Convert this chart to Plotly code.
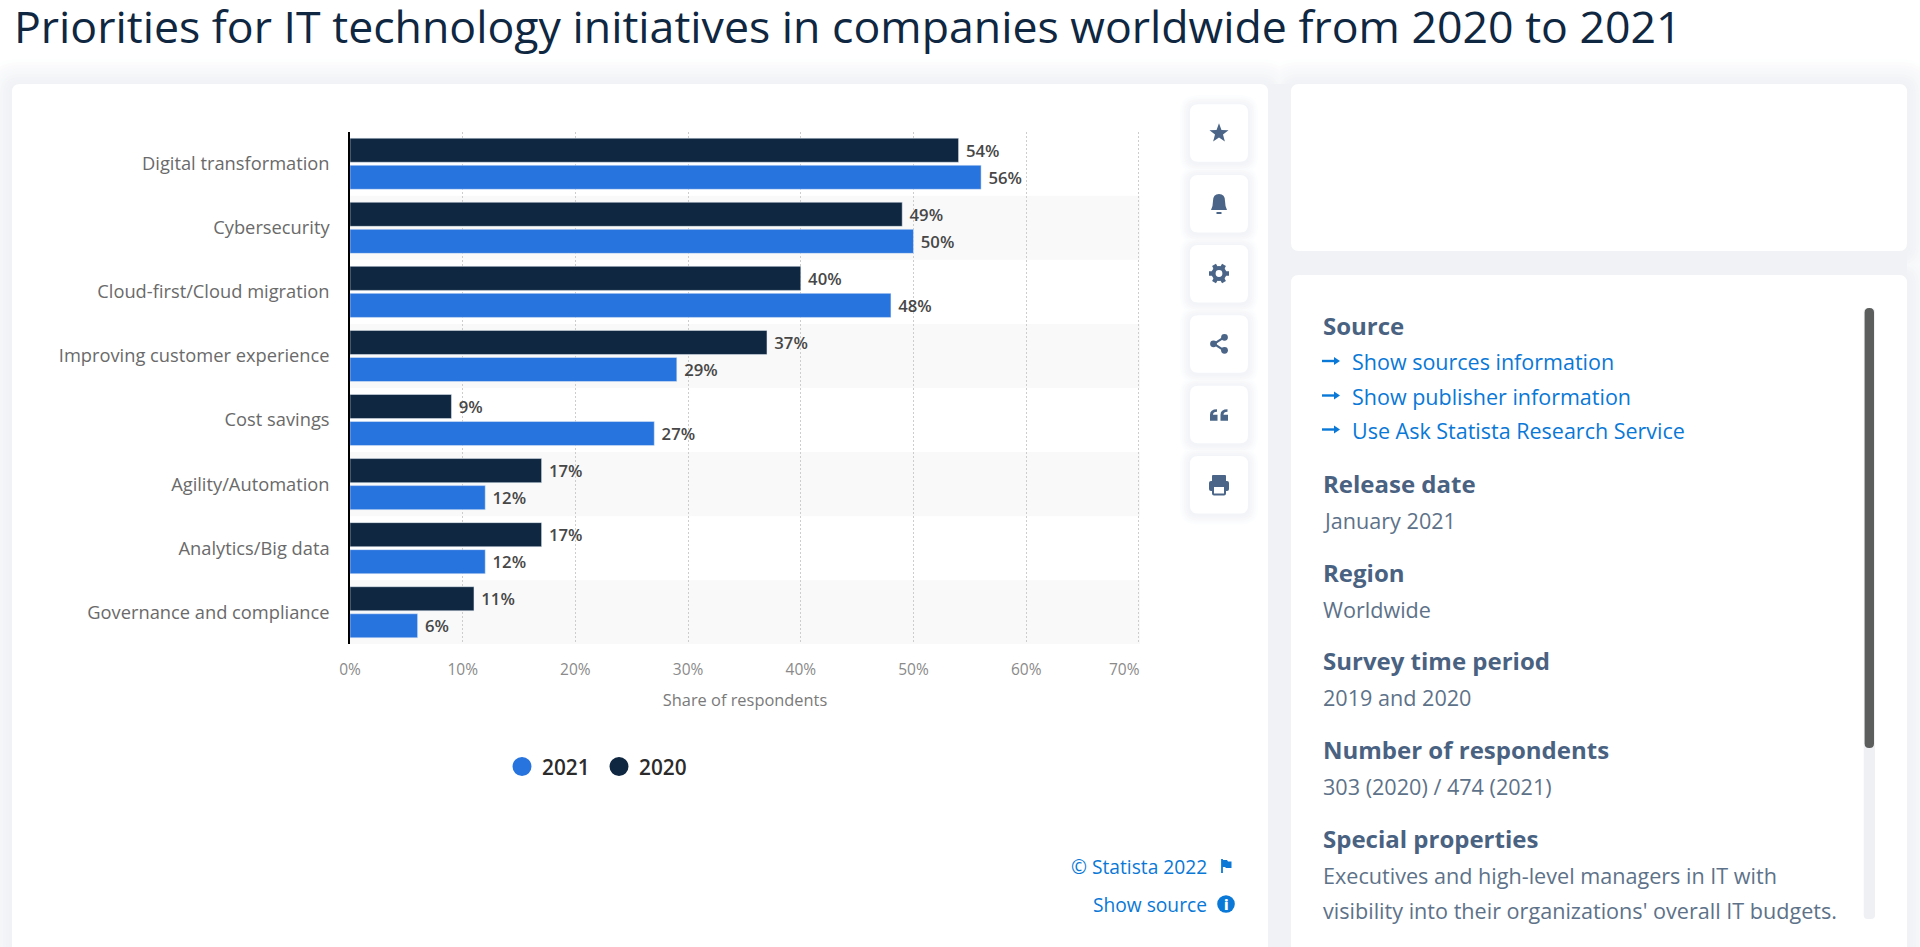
import plotly.graph_objects as go
import math

W, H = 1920, 947
categories = ["Digital transformation", "Cybersecurity", "Cloud-first/Cloud migration",
              "Improving customer experience", "Cost savings", "Agility/Automation",
              "Analytics/Big data", "Governance and compliance"]
values_2020 = [54, 49, 40, 37, 9, 17, 17, 11]
values_2021 = [56, 50, 48, 29, 27, 12, 12, 6]
x_ticks = [0, 10, 20, 30, 40, 50, 60, 70]
x_tick_labels = ["0%", "10%", "20%", "30%", "40%", "50%", "60%", ""]

PAGE = "#ffffff"
DARK = "#0f2741"
BLUE = "#2874df"
ICON = "#4a6587"
LINK = "#0a78d6"
HEAD = "#4a6282"
BODY = "#5d7289"
FONT = "Open Sans"


def px(x):
    return x / W


def py(y):
    return 1 - y / H


def rr(x0, y0, x1, y1, r):
    k = f"M{px(x0+r)},{py(y0)} L{px(x1-r)},{py(y0)} Q{px(x1)},{py(y0)} {px(x1)},{py(y0+r)} "
    k += f"L{px(x1)},{py(y1-r)} Q{px(x1)},{py(y1)} {px(x1-r)},{py(y1)} "
    k += f"L{px(x0+r)},{py(y1)} Q{px(x0)},{py(y1)} {px(x0)},{py(y1-r)} "
    k += f"L{px(x0)},{py(y0+r)} Q{px(x0)},{py(y0)} {px(x0+r)},{py(y0)} Z"
    return k


shapes = []


def add_path(path, fill, opacity=1.0, line=None, width=0):
    shapes.append(dict(type="path", xref="paper", yref="paper", path=path, fillcolor=fill,
                       opacity=opacity, layer="below",
                       line=dict(color=line or "rgba(0,0,0,0)", width=width)))


def glow(boxes, r, spread, step, edge, dy=2):
    """Opaque stepped halo fading from the edge colour to white, around all boxes together."""
    for s in range(spread, 0, -step):
        t = 1 - s / spread
        col = "#%02x%02x%02x" % tuple(round(255 + (c - 255) * t) for c in edge)
        for x0, y0, x1, y1 in boxes:
            add_path(rr(x0 - s, y0 - s + dy, x1 + s, y1 + s + dy, r + s), col)


def card(x0, y0, x1, y1, r):
    add_path(rr(x0, y0, x1, y1, r), "#ffffff")


# Panels with a soft halo; the narrow gaps between them stay uniformly shaded
PANELS = [(12, 84, 1268, 980), (1291, 84, 1907, 251), (1291, 275, 1907, 980)]
glow(PANELS, 8, 30, 3, (238, 240, 244))
add_path(rr(1268, 84, 1291, 980, 0), "#f0f2f5")
add_path(rr(1291, 251, 1907, 275, 0), "#f0f2f5")
for p in PANELS:
    card(*p, 8)

# Toolbar
btn_tops = [104.3, 175, 245, 315.3, 385.7, 456]
BUTTONS = [(1190, t, 1248, t + 57.5) for t in btn_tops]
glow(BUTTONS, 8, 12, 2, (240, 242, 246), dy=1)
for b in BUTTONS:
    card(*b, 8)


def poly(points, fill=ICON):
    d = "M" + " L".join(f"{px(a)},{py(b)}" for a, b in points) + " Z"
    add_path(d, fill)


def circle(cx, cy, r, fill=ICON):
    shapes.append(dict(type="circle", xref="paper", yref="paper", x0=px(cx - r), x1=px(cx + r),
                       y0=py(cy + r), y1=py(cy - r), fillcolor=fill, layer="below",
                       line=dict(width=0)))


def seg(x0, y0, x1, y1, w=2, color=ICON):
    shapes.append(dict(type="line", xref="paper", yref="paper", x0=px(x0), x1=px(x1),
                       y0=py(y0), y1=py(y1), layer="below", line=dict(color=color, width=w)))


cx = 1219
# star
cy = btn_tops[0] + 29
poly([(cx + (10 if i % 2 == 0 else 4.2) * math.sin(i * math.pi / 5),
       cy - (10 if i % 2 == 0 else 4.2) * math.cos(i * math.pi / 5)) for i in range(10)])
# bell
cy = btn_tops[1] + 28
add_path(f"M{px(cx-8)},{py(cy+7)} Q{px(cx-6)},{py(cy+3)} {px(cx-6)},{py(cy-2)} "
         f"Q{px(cx-6)},{py(cy-9)} {px(cx)},{py(cy-9)} Q{px(cx+6)},{py(cy-9)} {px(cx+6)},{py(cy-2)} "
         f"Q{px(cx+6)},{py(cy+3)} {px(cx+8)},{py(cy+7)} Z", ICON)
seg(cx - 2.5, cy + 10, cx + 2.5, cy + 10, 2)
# gear
cy = btn_tops[2] + 28.5
for i in range(6):
    a = i * math.pi / 3 + math.pi / 6
    seg(cx + 6 * math.sin(a), cy + 6 * math.cos(a), cx + 10 * math.sin(a), cy + 10 * math.cos(a), 4.5)
circle(cx, cy, 7.5)
circle(cx, cy, 3.4, "#ffffff")
# share
cy = btn_tops[3] + 28.5
seg(cx + 5, cy - 6.5, cx - 5, cy, 2.2)
seg(cx + 5, cy + 6.5, cx - 5, cy, 2.2)
circle(cx + 5.5, cy - 6.5, 3.4)
circle(cx + 5.5, cy + 6.5, 3.4)
circle(cx - 5.5, cy, 3.4)
# quote
cy = btn_tops[4] + 29
for dx in (-9, 1.5):
    add_path(f"M{px(cx+dx)},{py(cy)} Q{px(cx+dx)},{py(cy-5.5)} {px(cx+dx+7)},{py(cy-5.5)} "
             f"L{px(cx+dx+7)},{py(cy-3)} Q{px(cx+dx+3)},{py(cy-3)} {px(cx+dx+3)},{py(cy)} "
             f"L{px(cx+dx+7.5)},{py(cy)} L{px(cx+dx+7.5)},{py(cy+6)} L{px(cx+dx)},{py(cy+6)} Z", ICON)
# printer
cy = btn_tops[5] + 29
add_path(rr(cx - 10, cy - 4, cx + 10, cy + 6, 2), ICON)
add_path(rr(cx - 7, cy - 10, cx + 7, cy - 2, 1), ICON)
add_path(rr(cx - 6, cy + 1, cx + 6, cy + 9.5, 1), "#ffffff", line=ICON, width=2)

# Scrollbar
add_path(rr(1863.7, 308, 1875, 919, 4), "#eef0f3")
add_path(rr(1864.6, 308, 1874, 748, 4.5), "#5c5e5e")

# Link arrows
for yy in (361, 395.5, 429.5):
    seg(1322, yy, 1335, yy, 2.4, LINK)
    poly([(1334, yy - 4), (1340, yy), (1334, yy + 4)], LINK)

# Flag + info
seg(1222, 859, 1222, 873, 1.8, LINK)
poly([(1222, 860), (1227, 860), (1228, 861.5), (1231.5, 861.5), (1231.5, 868), (1226, 868), (1225, 867), (1222, 867)], LINK)
circle(1226, 904, 8.8, LINK)

# Bands on alternate categories
for i in range(1, len(categories), 2):
    shapes.append(dict(type="rect", xref="x domain", yref="y", x0=0, x1=1, y0=i - 0.5, y1=i + 0.5,
                       fillcolor="#f9f9f9", layer="below", line=dict(width=0)))

fig = go.Figure()
LABEL_FONT = dict(family=FONT, size=16.7, color="#474747", weight=600)
fig.add_bar(name="2020", y=categories, x=values_2020, orientation="h", marker_color=DARK,
            text=[f"\u00a0{v}%" for v in values_2020], textposition="outside", textfont=LABEL_FONT,
            cliponaxis=False, showlegend=False, hoverinfo="skip")
fig.add_bar(name="2021", y=categories, x=values_2021, orientation="h", marker_color=BLUE,
            text=[f"\u00a0{v}%" for v in values_2021], textposition="outside", textfont=LABEL_FONT,
            cliponaxis=False, showlegend=False, hoverinfo="skip")
# Legend entries with round markers
fig.add_scatter(name="2021", x=[None], y=[None], mode="markers",
                marker=dict(color=BLUE, size=16, line=dict(color=BLUE, width=3)))
fig.add_scatter(name="2020", x=[None], y=[None], mode="markers",
                marker=dict(color=DARK, size=16, line=dict(color=DARK, width=3)))

ann = []


def text(x, y, s, size, color, weight=400, anchor="left", family=FONT):
    ann.append(dict(xref="paper", yref="paper", x=px(x), y=py(y), text=s, showarrow=False,
                    xanchor=anchor, yanchor="middle", borderpad=0,
                    font=dict(family=family, size=size, color=color, weight=weight)))


text(12.5, 25.5, "Priorities for IT technology initiatives in companies worldwide from 2020 to 2021",
     44.65, "#0f2741", 500)
text(1141, 669, "70%", 15.5, "#8a8a8a", anchor="right")
for yy, s in [(325.7, "Source"), (483, "Release date"), (572, "Region"), (660.7, "Survey time period"),
              (749, "Number of respondents"), (838, "Special properties")]:
    text(1322, yy, s, 24, HEAD, 700)
for yy, s in [(362, "Show sources information"), (396.7, "Show publisher information"),
              (430.7, "Use Ask Statista Research Service")]:
    text(1351, yy, s, 21.5, LINK)
for yy, s, xx in [(520.7, "January 2021", 1322), (609.5, "Worldwide", 1322), (697.5, "2019 and 2020", 1322),
                  (786.2, "303 (2020) / 474 (2021)", 1322),
                  (875.7, "Executives and high-level managers in IT with", 1322),
                  (910, "visibility into their organizations' overall IT budgets.", 1322)]:
    text(xx, yy, s, 21.6, BODY)
text(1208, 866, "© Statista 2022", 19.2, LINK, anchor="right")
text(1208, 904, "Show source", 19.2, LINK, anchor="right")
text(1226, 904, "i", 14, "#ffffff", 800, anchor="center")

fig.update_layout(
    width=W, height=H, autosize=False, margin=dict(l=0, r=0, t=0, b=0, pad=0),
    paper_bgcolor=PAGE, plot_bgcolor="rgba(0,0,0,0)",
    barmode="group", bargap=0.156, bargroupgap=0.11,
    shapes=shapes, annotations=ann, hovermode=False,
    font=dict(family=FONT),
    xaxis=dict(domain=[px(350), px(1140)], range=[0, 70.1], tickvals=x_ticks, ticktext=x_tick_labels,
               automargin=False,
               showgrid=True, gridcolor="#cdcdcd", griddash="2px,2px", gridwidth=1, zeroline=False,
               showline=False, ticks="", tickfont=dict(family=FONT, size=15.5, color="#8a8a8a"),
               ticklabelstandoff=14,
               title=dict(text="Share of respondents", font=dict(family=FONT, size=16.4, color="#7a7a7a"))),
    yaxis=dict(domain=[py(644.3), py(131.7)], autorange=False, range=[7.5, -0.5], showline=True,
               automargin=False,
               linecolor="#000000", linewidth=1.5, showgrid=False, zeroline=False, ticks="",
               tickfont=dict(family=FONT, size=18.3, color="#6a6a6a"), ticklabelstandoff=15,
               type="category"),
    legend=dict(orientation="h", x=px(502), y=py(767), xanchor="left", yanchor="middle",
                traceorder="normal", font=dict(family=FONT, size=20.8, color="#2b2b2b", weight=600),
                entrywidth=52, entrywidthmode="pixels",
                bgcolor="rgba(0,0,0,0)"),
)

fig.write_html("out.html", post_script="document.body.style.margin='0';document.body.style.overflow='hidden';",
               config=dict(displayModeBar=False))
